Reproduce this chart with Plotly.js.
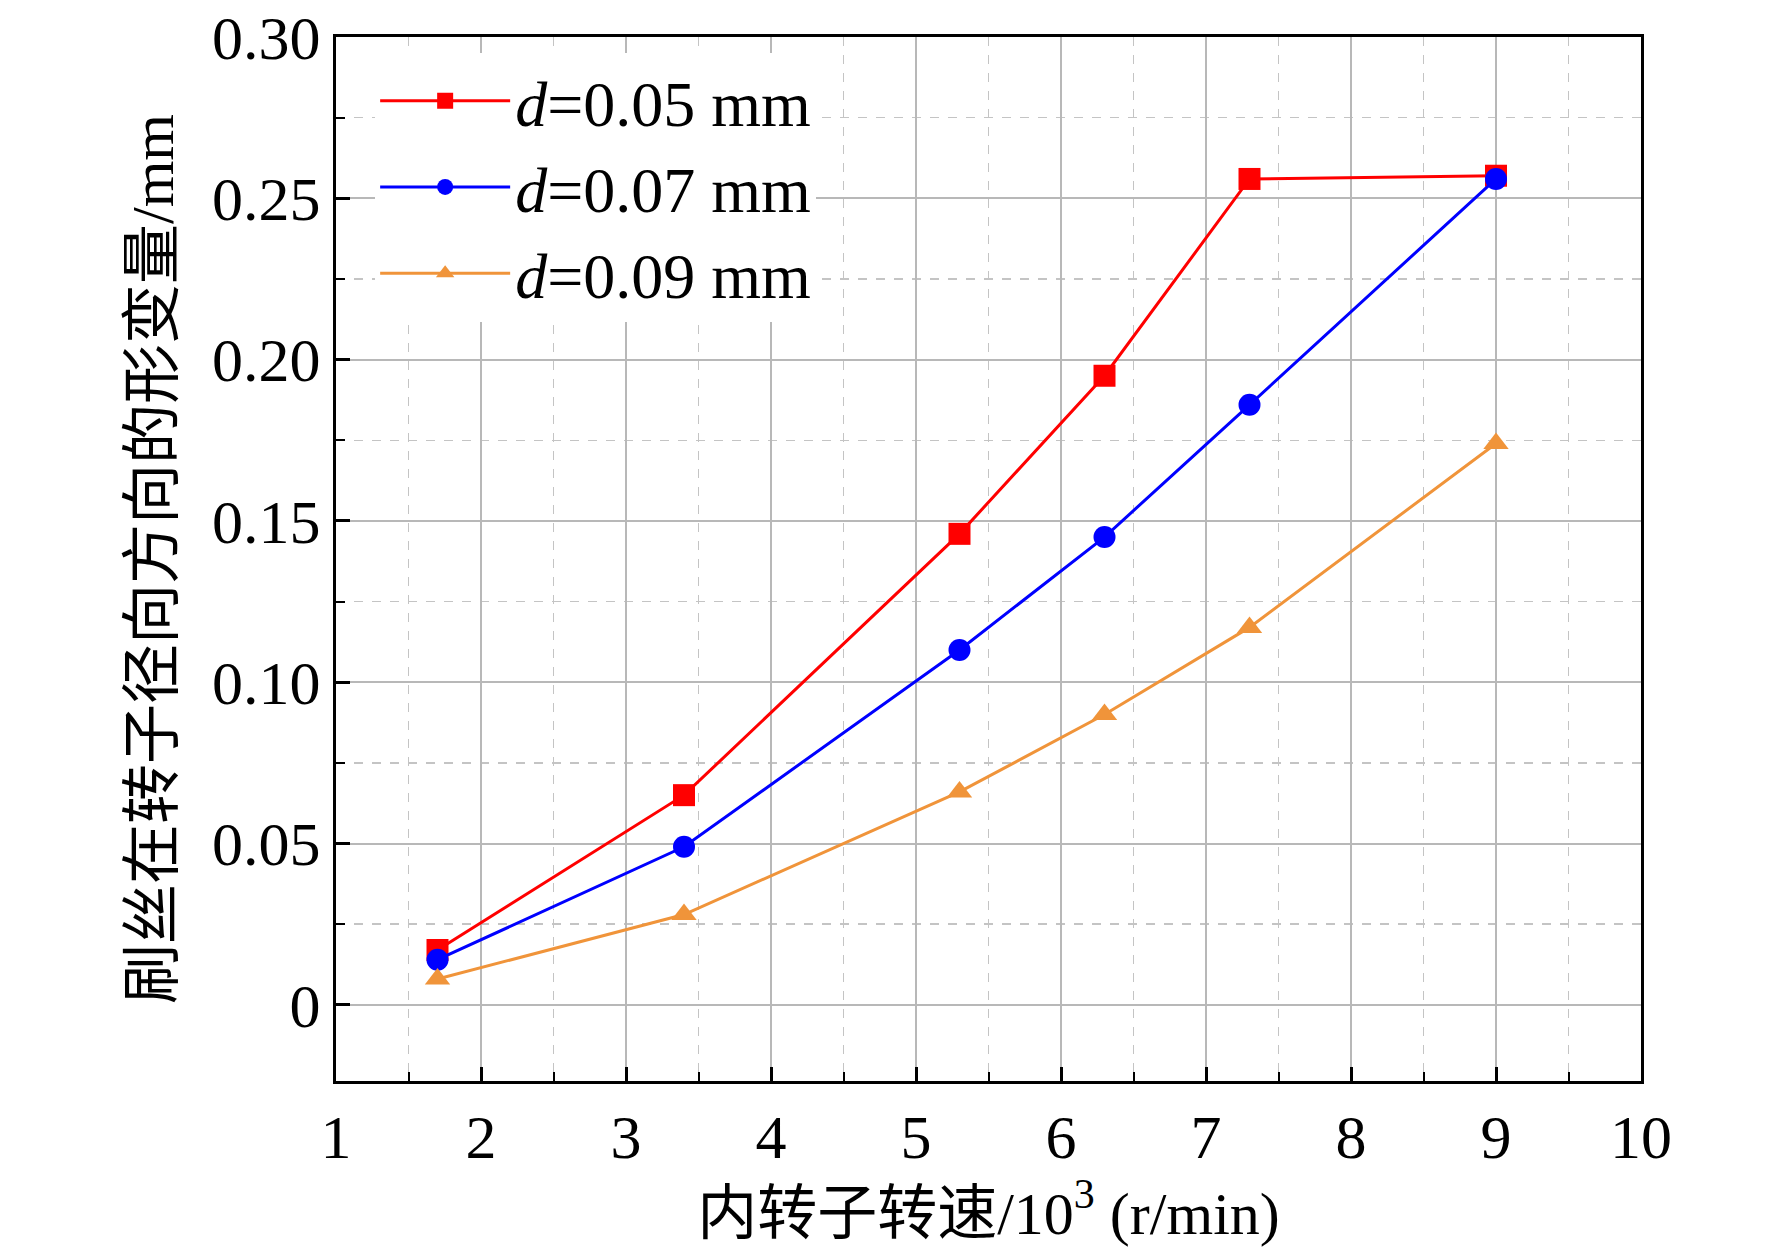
<!DOCTYPE html>
<html><head><meta charset="utf-8">
<script src="https://cdn.plot.ly/plotly-3.0.1.min.js"></script>
<style>body{margin:0;background:#fff}</style>
</head><body>
<div id="chart" style="width:1772px;height:1254px"></div>
<script>
// speed of inner rotor, 10^3 r/min
speed=[1.7,3.4,5.3,6.3,7.3,9.0]
d005=[0.017,0.065,0.146,0.195,0.256,0.257]
d007=[0.014,0.049,0.110,0.145,0.186,0.256]
d009=[0.008,0.028,0.066,0.090,0.117,0.174]
names=['<i>d</i>=0.05 mm','<i>d</i>=0.07 mm','<i>d</i>=0.09 mm']

fnt='"Liberation Serif","Times New Roman","Noto Sans CJK SC",serif'
function tr(y,name,color,sym){
  return {x:speed,y:y,name:name,mode:'lines+markers',
    line:{color:color,width:3},marker:{color:color,symbol:sym,size:22}}
}
data=[tr(d005,names[0],'#ff0000','square'),tr(d007,names[1],'#0000ff','circle'),tr(d009,names[2],'#f0943a','triangle-up')]

ax={showline:true,linecolor:'#000',linewidth:3,mirror:true,
  showgrid:true,gridcolor:'#b8b8b8',gridwidth:2,zeroline:false,
  ticks:'inside',ticklen:14,tickwidth:3,tickcolor:'#000',
  tickfont:{family:fnt,size:62,color:'#000'},
  minor:{showgrid:true,gridcolor:'#c4c4c4',griddash:'dash',gridwidth:1.5,ticks:'inside',ticklen:9,tickwidth:2,tickcolor:'#000'}}

layout={width:1772,height:1254,margin:{l:336,r:131,t:37,b:173},
  paper_bgcolor:'#fff',plot_bgcolor:'#fff',font:{family:fnt,color:'#000'},
  xaxis:Object.assign({},ax,{range:[1,10],dtick:1,tick0:1,minor:Object.assign({},ax.minor,{dtick:0.5}),
    title:{text:'内转子转速/10<sup>3</sup> (r/min)',font:{family:fnt,size:60},standoff:15}}),
  yaxis:Object.assign({},ax,{range:[-0.0236,0.30],
    tickvals:[0,0.05,0.1,0.15,0.2,0.25,0.3],ticktext:['0','0.05','0.10','0.15','0.20','0.25','0.30'],
    minor:Object.assign({},ax.minor,{dtick:0.025}),
    title:{text:'刷丝在转子径向方向的形变量/mm',font:{family:fnt,size:60},standoff:20}}),
  legend:{x:0.03,y:0.985,xanchor:'left',yanchor:'top',bgcolor:'#fff',font:{family:fnt,size:64},
    itemwidth:130,tracegroupgap:0}
}
Plotly.newPlot('chart',data,layout,{staticPlot:true})
</script>
</body></html>
